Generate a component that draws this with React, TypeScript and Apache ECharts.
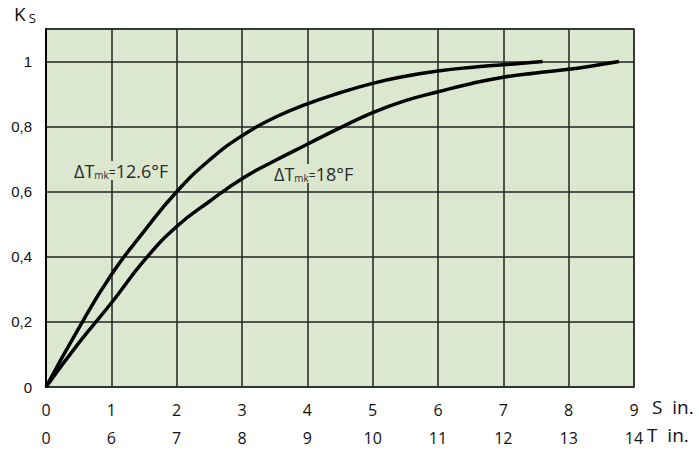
import React, { useEffect, useRef } from "react";
import * as echarts from "echarts";

const sLabels = ["0", "1", "2", "3", "4", "5", "6", "7", "8", "9"];
const tLabels = ["0", "6", "7", "8", "9", "10", "11", "12", "13", "14"];
const yTicks: Record<string, string> = { "0": "0", "0.2": "0,2", "0.4": "0,4", "0.6": "0,6", "0.8": "0,8", "1": "1" };

const curve126S = [0, 0.5, 1, 1.5, 2, 2.5, 3, 3.5, 4, 4.5, 5, 5.5, 6, 6.5, 7, 7.6];
const curve126K = [0, 0.18, 0.345, 0.478, 0.6, 0.697, 0.772, 0.828, 0.87, 0.904, 0.933, 0.955, 0.971, 0.982, 0.99, 1.0];

const curve18S = [0, 0.5, 1, 1.5, 2, 2.5, 3, 3.5, 4, 4.5, 5, 5.5, 6, 6.5, 7, 7.5, 8, 8.4, 8.77];
const curve18K = [0, 0.135, 0.258, 0.388, 0.493, 0.57, 0.64, 0.695, 0.746, 0.796, 0.843, 0.88, 0.907, 0.932, 0.952, 0.965, 0.976, 0.988, 1.0];

const BG = "#dbe8cf";
const FONT = "'Open Sans', sans-serif";

export default function App() {
  const ref = useRef<HTMLDivElement>(null);
  useEffect(() => {
    document.body.style.margin = "0";
    const chart = echarts.init(ref.current!, undefined, { renderer: "svg" });
    const mk = (xs: number[], ys: number[]) => xs.map((x, i) => [x, ys[i]]);
    const labelRich = {
      a: { fontSize: 18, fontFamily: FONT, fill: "#2a2a2a" },
      b: { fontSize: 10, fontFamily: FONT, fill: "#2a2a2a", padding: [9, 0, 0, 0] },
      e: { fontSize: 12, fontFamily: FONT, fill: "#2a2a2a", padding: [4, 0, 0, 0] },
      c: { fontSize: 18, fontFamily: FONT, fill: "#2a2a2a" },
    };
    chart.setOption({
      animation: false,
      grid: {
        left: 46,
        right: 65,
        top: 29,
        bottom: 67,
        show: true,
        backgroundColor: BG,
        borderColor: "#555",
        borderWidth: 1.5,
      },
      xAxis: {
        type: "value",
        min: 0,
        max: 9,
        interval: 1,
        axisLine: { show: true, lineStyle: { color: "#333", width: 1.5 } },
        axisTick: { show: false },
        splitLine: { show: true, lineStyle: { color: "#222", width: 1.5 } },
        axisLabel: {
          margin: 9,
          lineHeight: 28,
          fontSize: 16,
          fontFamily: FONT,
          color: "#111",
          formatter: (v: number) => `${sLabels[Math.round(v)]}\n${tLabels[Math.round(v)]}`,
        },
      },
      yAxis: {
        type: "value",
        min: 0,
        max: 1.1,
        interval: 0.2,
        axisLine: { show: true, lineStyle: { color: "#000", width: 2 } },
        axisTick: { show: false },
        splitLine: { show: true, lineStyle: { color: "#222", width: 1.5 } },
        axisLabel: {
          margin: 14,
          fontSize: 15,
          fontFamily: "'Liberation Sans', Arial, sans-serif",
          color: "#111",
          showMaxLabel: false,
          formatter: (v: number) => yTicks[String(Math.round(v * 10) / 10)] ?? "",
        },
      },
      series: [
        {
          type: "line",
          name: "12.6",
          data: mk(curve126S, curve126K),
          smooth: 0.5,
          showSymbol: false,
          lineStyle: { color: "#000", width: 3.5 },
          z: 5,
        },
        {
          type: "line",
          name: "18",
          data: mk(curve18S, curve18K),
          smooth: 0.5,
          showSymbol: false,
          lineStyle: { color: "#000", width: 3.5 },
          z: 5,
        },
      ],
      graphic: [
        {
          type: "text",
          left: 14,
          top: 4,
          style: {
            text: "{k|K}{s|S}",
            rich: {
              k: { fontSize: 19, fontFamily: FONT, fill: "#111" },
              s: { fontSize: 13, fontFamily: FONT, fill: "#111", padding: [9, 0, 0, 3] },
            },
          },
        },
        {
          type: "text",
          left: 652,
          top: 397,
          style: { text: "S  in.", fontSize: 19, fontFamily: FONT, fill: "#111" },
        },
        {
          type: "text",
          left: 647,
          top: 425,
          style: { text: "T  in.", fontSize: 19, fontFamily: FONT, fill: "#111" },
        },
        {
          type: "text",
          left: 74,
          top: 161,
          z: 10,
          style: {
            text: "{a|ΔT}{b|mk}{e|=}{c|12.6°F}",
            backgroundColor: BG,
            rich: labelRich,
          },
        },
        {
          type: "text",
          left: 274,
          top: 164,
          z: 10,
          style: {
            text: "{a|ΔT}{b|mk}{e|=}{c|18°F}",
            backgroundColor: BG,
            rich: labelRich,
          },
        },
      ],
    });
    return () => chart.dispose();
  }, []);
  return <div ref={ref} style={{ width: 699, height: 454 }} />;
}
